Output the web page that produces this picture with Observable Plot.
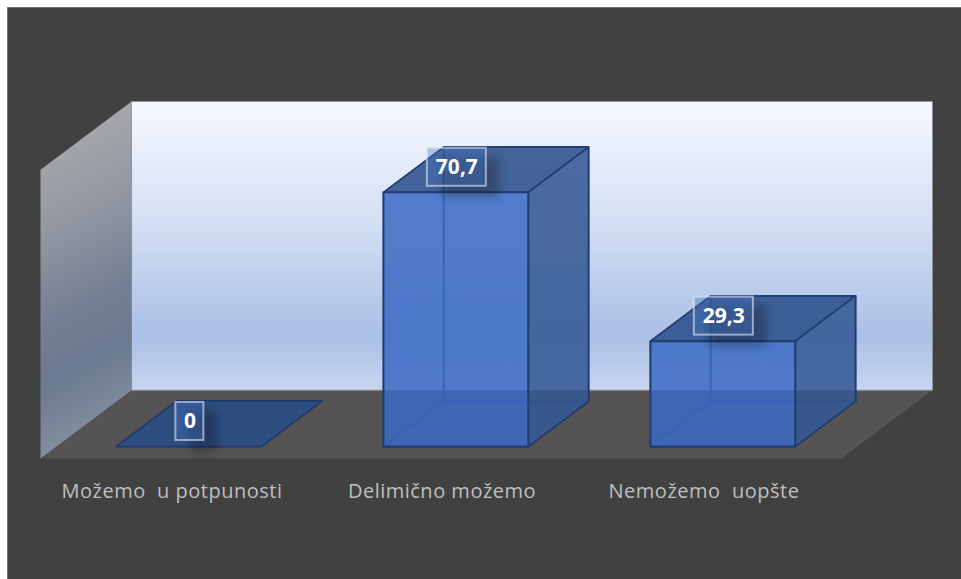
<!DOCTYPE html>
<html>
<head>
<meta charset="utf-8">
<script src="https://cdn.jsdelivr.net/npm/d3@7"></script>
<script src="https://cdn.jsdelivr.net/npm/@observablehq/plot@0.6"></script>
<style>
  html, body { margin: 0; background: #fff; }
  #panel { position: absolute; left: 7px; top: 7px; width: 954px; height: 572px; box-sizing: border-box;
           background: #414141; border-left: 1px solid #6e6e6e; border-top: 1px solid #6e6e6e; }
  #chart { position: absolute; left: 0; top: 0; width: 961px; height: 579px; overflow: hidden; }
</style>
</head>
<body>
<div id="panel"></div>
<div id="chart"></div>
<script>
const categories = ["Možemo  u potpunosti", "Delimično možemo", "Nemožemo  uopšte"];
const values = [0, 70.7, 29.3];
const valueLabels = ["0", "70,7", "29,3"];
const labelHalfWidths = [14, 29.5, 29.5];
const categoryNudges = [-2, 1, -4];

// Oblique projection: moving back through the box shifts a point right and up.
const skewX = 0.341;
const skewY = 19;
const axisMax = 80.3;
const project = (cat, val, depth) => ({x: cat + depth * skewX, y: val + depth * skewY});

const unitX = (3 + skewX) / 892;   // category units per pixel
const unitY = (axisMax + skewY) / 357;   // value units per pixel

// Each face is a closed ring of projected corners.
const ring = (id, corners) => corners.map(([c, v, d]) => ({id, ...project(c, v, d)}));

const backWall = ring("wall", [[0, 0, 1], [3, 0, 1], [3, axisMax, 1], [0, axisMax, 1]]);
const sideWall = ring("side", [[0, 0, 0], [0, 0, 1], [0, axisMax, 1], [0, axisMax, 0]]);
const floor = ring("floor", [[0, 0, 0], [3, 0, 0], [3, 0, 1], [0, 0, 1]]);

const d0 = 0.176, d1 = 0.838, pad = 0.2245, barWidth = 0.5425;
const faces = {bottom: [], back: [], left: [], top: [], right: [], front: []};
values.forEach((v, i) => {
  const a = i + pad, b = a + barWidth;
  faces.bottom.push(...ring(`b${i}`, [[a, 0, d0], [b, 0, d0], [b, 0, d1], [a, 0, d1]]));
  faces.back.push(...ring(`k${i}`, [[a, 0, d1], [b, 0, d1], [b, v, d1], [a, v, d1]]));
  faces.left.push(...ring(`l${i}`, [[a, 0, d0], [a, 0, d1], [a, v, d1], [a, v, d0]]));
  faces.top.push(...ring(`t${i}`, [[a, v, d0], [b, v, d0], [b, v, d1], [a, v, d1]]));
  if (v > 0) {
    faces.right.push(...ring(`r${i}`, [[b, 0, d0], [b, 0, d1], [b, v, d1], [b, v, d0]]));
    faces.front.push(...ring(`f${i}`, [[a, 0, d0], [b, 0, d0], [b, v, d0], [a, v, d0]]));
  }
});

const polygon = (data, options) =>
  Plot.line(data, {x: "x", y: "y", z: "id", curve: "linear-closed", ...options});

// Value boxes sit centred over the front edge of each bar's top.
const frontY = (v) => v + d0 * skewY;
const boxes = values.map((v, i) => {
  const cx = i + pad + barWidth / 2 + d0 * skewX + 1 * unitX;
  const hw = labelHalfWidths[i] * unitX;
  return {
    label: valueLabels[i], cx, cy: frontY(v) + 25 * unitY,
    x1: cx - hw, x2: cx + hw,
    y1: frontY(v) + 6 * unitY, y2: frontY(v) + 44 * unitY,
    sx1: cx - hw + 14 * unitX, sx2: cx + hw + 14 * unitX,
    sy1: frontY(v) - 6 * unitY, sy2: frontY(v) + 36 * unitY
  };
});

const defs = () => {
  const node = document.createElementNS("http://www.w3.org/2000/svg", "defs");
  node.innerHTML = `
    <linearGradient id="wallFill" x1="0" y1="0" x2="0" y2="1">
      <stop offset="0" stop-color="#f6f9ff"/>
      <stop offset="0.42" stop-color="#d3dff3"/>
      <stop offset="0.81" stop-color="#abc0e6"/>
      <stop offset="1" stop-color="#c7d5ef"/>
    </linearGradient>
    <linearGradient id="sideFill" x1="0" y1="0" x2="0.13" y2="1">
      <stop offset="0.1" stop-color="#a8a9ab"/>
      <stop offset="0.4" stop-color="#8f95a0"/>
      <stop offset="0.62" stop-color="#747f93"/>
      <stop offset="0.78" stop-color="#6b7991"/>
      <stop offset="1" stop-color="#84919f"/>
    </linearGradient>
    <filter id="soft" x="-50%" y="-50%" width="200%" height="200%">
      <feGaussianBlur stdDeviation="5"/>
    </filter>`;
  return node;
};

const softShadow = (i, s, c, d, ctx, next) => {
  const g = next(i, s, c, d, ctx);
  g.setAttribute("filter", "url(#soft)");
  return g;
};

const edge = "#203c70";

const chart = Plot.plot({
  width: 961,
  height: 579,
  marginLeft: 40,
  marginRight: 29,
  marginTop: 101,
  marginBottom: 121,
  style: {background: "transparent", fontFamily: "'Open Sans', sans-serif"},
  x: {domain: [0, 3 + skewX], axis: null},
  y: {domain: [0, axisMax + skewY], axis: null},
  marks: [
    defs,
    polygon(floor, {fill: "#555353"}),
    polygon(backWall, {fill: "url(#wallFill)", stroke: "#8b9099", strokeWidth: 1}),
    polygon(sideWall, {fill: "url(#sideFill)"}),

    // Hidden faces show through the translucent bars as faint outlines.
    polygon(faces.bottom, {fill: "#3b6bc4", fillOpacity: 0.08, stroke: "#14346e", strokeOpacity: 0.8, strokeWidth: 2}),
    polygon(faces.back, {stroke: "#14346e", strokeOpacity: 0.8, strokeWidth: 2}),
    polygon(faces.left, {stroke: "#14346e", strokeOpacity: 0.5, strokeWidth: 1.5}),

    polygon(faces.top, {fill: "#284c88", fillOpacity: 0.85, stroke: edge, strokeWidth: 1.5, strokeLinejoin: "round"}),
    polygon(faces.right, {fill: "#345894", fillOpacity: 0.87, stroke: edge, strokeWidth: 1.5, strokeLinejoin: "round"}),
    polygon(faces.front, {fill: "#3b6bc4", fillOpacity: 0.85, stroke: edge, strokeWidth: 2, strokeLinejoin: "round"}),

    // Value labels: soft shadow, translucent box, bold figure.
    Plot.rect(boxes, {x1: "sx1", x2: "sx2", y1: "sy1", y2: "sy2", fill: "#000", fillOpacity: 0.25, render: softShadow}),
    Plot.rect(boxes, {x1: "x1", x2: "x2", y1: "y1", y2: "y2", fill: "#4472c4", fillOpacity: 0.37, stroke: "#e4e8f0", strokeOpacity: 0.6, strokeWidth: 2}),
    Plot.text(boxes, {x: "cx", y: "cy", text: "label", fill: "#fff", fontWeight: 700, fontSize: 21}),

    // Category names beneath the floor.
    Plot.text(categories, {
      x: (d, i) => i + 0.5 + categoryNudges[i] * unitX,
      y: () => 0,
      dy: 33,
      text: (d) => d,
      fill: "#bfbfbf",
      fontSize: 20,
      render: (i, s, c, d, ctx, next) => {
        const g = next(i, s, c, d, ctx);
        g.style.letterSpacing = "0.5px";
        return g;
      }
    })
  ]
});
document.getElementById("chart").append(chart);
</script>
</body>
</html>
